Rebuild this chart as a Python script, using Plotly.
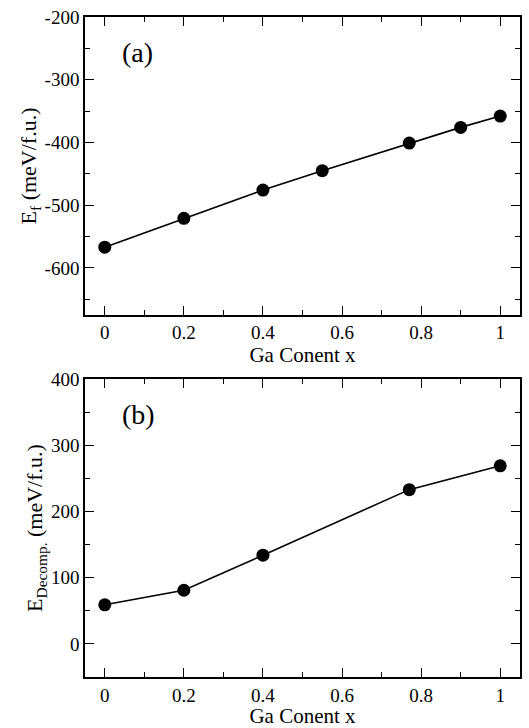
import plotly.graph_objects as go
from plotly.subplots import make_subplots

x_a = [0, 0.2, 0.4, 0.55, 0.77, 0.9, 1.0]
ef_a = [-567, -521, -476, -445, -401, -376, -358]

x_b = [0, 0.2, 0.4, 0.77, 1.0]
ed_b = [59, 81, 134, 233, 269]

x_ticks = [0, 0.2, 0.4, 0.6, 0.8, 1]
x_ticktext = ["0", "0.2", "0.4", "0.6", "0.8", "1"]
ya_ticks = [-600, -500, -400, -300, -200]
ya_ticktext = ["-600", "-500", "-400", "-300", "-200"]
yb_ticks = [0, 100, 200, 300, 400]
yb_ticktext = ["0", "100", "200", "300", "400"]

FONT = "Liberation Serif"

fig = make_subplots(rows=2, cols=1, vertical_spacing=0.0972)

marker = dict(size=13, color="black")
line = dict(color="black", width=1.6)
fig.add_trace(go.Scatter(x=x_a, y=ef_a, mode="lines+markers", marker=marker, line=line, showlegend=False), row=1, col=1)
fig.add_trace(go.Scatter(x=x_b, y=ed_b, mode="lines+markers", marker=marker, line=line, showlegend=False), row=2, col=1)

axis_common = dict(
    showgrid=False, zeroline=False, showline=True, linecolor="black", linewidth=1.5,
    mirror="allticks", ticks="inside", ticklen=9, tickwidth=1.2, tickcolor="black",
    tickfont=dict(family=FONT, size=19, color="black"),
)
title_font = dict(family=FONT, size=22, color="black")
xtitle_font = dict(family=FONT, size=21, color="black")
minor_x = dict(ticks="inside", ticklen=5, dtick=0.1, tick0=0, tickcolor="black", tickwidth=1.2)
minor_y = dict(ticks="inside", ticklen=5, dtick=50, tick0=0, tickcolor="black", tickwidth=1.2)

for r in (1, 2):
    fig.update_xaxes(range=[-0.05, 1.05], tickvals=x_ticks, ticktext=x_ticktext, minor=minor_x,
                     title=dict(text="Ga Conent x", font=xtitle_font, standoff=1),
                     row=r, col=1, **axis_common)
fig.update_yaxes(range=[-675, -200], tickvals=ya_ticks, ticktext=ya_ticktext, minor=minor_y,
                 title=dict(text="E<sub>f</sub> (meV/f.u.)", font=title_font, standoff=2),
                 row=1, col=1, **axis_common)
fig.update_yaxes(range=[-50, 400], tickvals=yb_ticks, ticktext=yb_ticktext, minor=minor_y,
                 title=dict(text="E<sub>Decomp.</sub> (meV/f.u.)", font=title_font, standoff=2),
                 row=2, col=1, **axis_common)

fig.add_annotation(text="(a)", xref="x domain", yref="y domain", x=0.08, y=0.882, xanchor="left", yanchor="middle",
                   showarrow=False, font=dict(family=FONT, size=28, color="black"))
fig.add_annotation(text="(b)", xref="x2 domain", yref="y2 domain", x=0.08, y=0.882, xanchor="left", yanchor="middle",
                   showarrow=False, font=dict(family=FONT, size=28, color="black"))

fig.update_layout(
    width=529, height=728,
    margin=dict(l=85, r=7, t=17, b=42),
    plot_bgcolor="white", paper_bgcolor="white",
)
fig.update_layout(yaxis=dict(domain=[0.5486, 1.0]), yaxis2=dict(domain=[0.0, 0.4514]))

fig.write_html("out.html")
